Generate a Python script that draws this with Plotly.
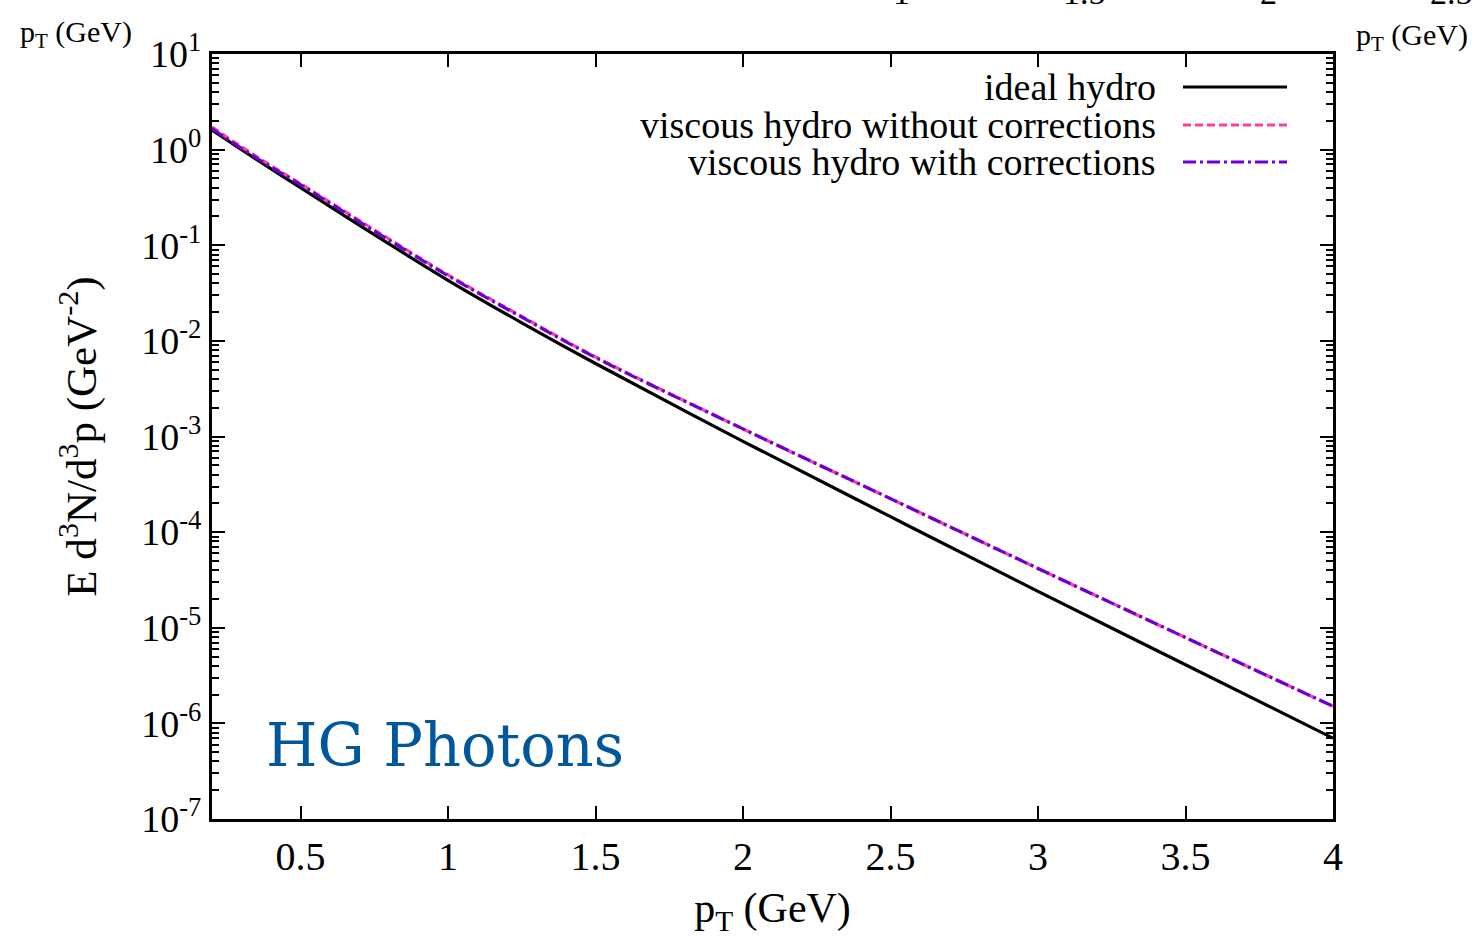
import plotly.graph_objects as go

# ---- data ----
pt = [0.2, 0.3, 0.4, 0.5, 0.75, 1.0, 1.25, 1.5, 2.0, 2.5, 3.0, 3.5, 4.0]
ideal_hydro = [1.6, 1.0, 0.63, 0.40, 0.129, 0.043, 0.01545, 0.0058, 8.9e-4, 1.45e-4, 2.4e-5, 4.1e-6, 7.0e-7]
visc_no_corr = [1.72, 1.07, 0.68, 0.44, 0.145, 0.049, 0.0180, 0.0068, 1.2e-3, 2.24e-4, 4.17e-5, 7.9e-6, 1.51e-6]
visc_corr = [1.66, 1.03, 0.66, 0.43, 0.141, 0.048, 0.0177, 0.0067, 1.2e-3, 2.24e-4, 4.17e-5, 7.9e-6, 1.51e-6]

series_names = ["ideal hydro", "viscous hydro without corrections", "viscous hydro with corrections"]

x_tickvals = [0.5, 1, 1.5, 2, 2.5, 3, 3.5, 4]
x_ticktext = ["0.5", "1", "1.5", "2", "2.5", "3", "3.5", "4"]
y_tickvals = [1e-7, 1e-6, 1e-5, 1e-4, 1e-3, 1e-2, 1e-1, 1e0, 1e1]
y_ticktext = ["10<sup>-7</sup>", "10<sup>-6</sup>", "10<sup>-5</sup>", "10<sup>-4</sup>",
              "10<sup>-3</sup>", "10<sup>-2</sup>", "10<sup>-1</sup>", "10<sup>0</sup>", "10<sup>1</sup>"]
top_clipped_labels = ["1", "1.5", "2", "2.5"]
top_clipped_x = [901, 1084, 1268, 1451]

# ---- style ----
W, H = 1475, 937
ML, MR, MT, MB = 212, 142, 54, 118
PW, PH = W - ML - MR, H - MT - MB
SERIF = "Liberation Serif, Times New Roman, serif"
colors = ["#000000", "#ff3f9a", "#6b00d6"]
dashes = ["solid", "8px,4px", "13px,4px,3px,4px"]

fig = go.Figure()
for name, ys, c, d in zip(series_names, [ideal_hydro, visc_no_corr, visc_corr], colors, dashes):
    fig.add_trace(go.Scatter(x=pt, y=ys, mode="lines", name=name,
                             line=dict(color=c, width=3.2, dash=d, shape="spline", smoothing=1.0),
                             showlegend=False))

def px2x(px):
    return (px - ML) / PW

def py2y(py):
    return 1 - (py - MT) / PH

annotations = []
shapes = []
# manual legend: text right-aligned, sample on the right
leg_y = [87, 125, 162]
for name, c, d, yy in zip(series_names, colors, dashes, leg_y):
    annotations.append(dict(x=px2x(1158), y=py2y(yy), xref="paper", yref="paper",
                            text=name, showarrow=False, xanchor="right", yanchor="middle",
                            font=dict(family=SERIF, size=38, color="black")))
    shapes.append(dict(type="line", xref="paper", yref="paper",
                       x0=px2x(1183), x1=px2x(1287), y0=py2y(yy), y1=py2y(yy),
                       line=dict(color=c, width=3, dash=d)))

annotations.append(dict(x=px2x(264), y=py2y(745), xref="paper", yref="paper",
                        text="HG Photons", showarrow=False, xanchor="left", yanchor="middle",
                        font=dict(family="DejaVu Serif, serif", size=59, color="#00579b")))

# stray labels from the surrounding figure
annotations.append(dict(x=px2x(18), y=py2y(34), xref="paper", yref="paper",
                        text="p<sub>T</sub> (GeV)", showarrow=False, xanchor="left", yanchor="middle",
                        font=dict(family=SERIF, size=30, color="black")))
annotations.append(dict(x=px2x(1354), y=py2y(37), xref="paper", yref="paper",
                        text="p<sub>T</sub> (GeV)", showarrow=False, xanchor="left", yanchor="middle",
                        font=dict(family=SERIF, size=30, color="black")))
for t, xp in zip(top_clipped_labels, top_clipped_x):
    annotations.append(dict(x=px2x(xp), y=py2y(-8), xref="paper", yref="paper",
                            text=t, showarrow=False, xanchor="center", yanchor="middle",
                            font=dict(family=SERIF, size=34, color="black")))

fig.update_layout(
    width=W, height=H,
    margin=dict(l=ML, r=MR, t=MT, b=MB, autoexpand=False),
    paper_bgcolor="white", plot_bgcolor="white",
    annotations=annotations, shapes=shapes,
    showlegend=False,
)
fig.update_xaxes(
    range=[0.2, 4], tickmode="array", tickvals=x_tickvals, ticktext=x_ticktext,
    ticks="inside", ticklen=13, tickwidth=2, tickcolor="black",
    showline=True, linewidth=3, linecolor="black", mirror="ticks",
    showgrid=False, zeroline=False,
    tickfont=dict(family=SERIF, size=40, color="black"),
    title=dict(text="p<sub>T</sub> (GeV)", font=dict(family=SERIF, size=42, color="black"), standoff=18),
    automargin=False,
)
fig.update_yaxes(
    type="log", range=[-7, 1], tickmode="array", tickvals=y_tickvals, ticktext=y_ticktext,
    ticks="inside", ticklen=13, tickwidth=2, tickcolor="black",
    minor=dict(ticks="inside", ticklen=7, tickwidth=2, tickcolor="black", dtick="D1", showgrid=False),
    showline=True, linewidth=3, linecolor="black", mirror="ticks",
    showgrid=False, zeroline=False,
    tickfont=dict(family=SERIF, size=38, color="black"),
    title=dict(text="E d<sup>3</sup>N/d<sup>3</sup>p (GeV<sup>-2</sup>)",
               font=dict(family=SERIF, size=43, color="black"), standoff=32),
    automargin=False,
)

fig.write_html("out.html")
